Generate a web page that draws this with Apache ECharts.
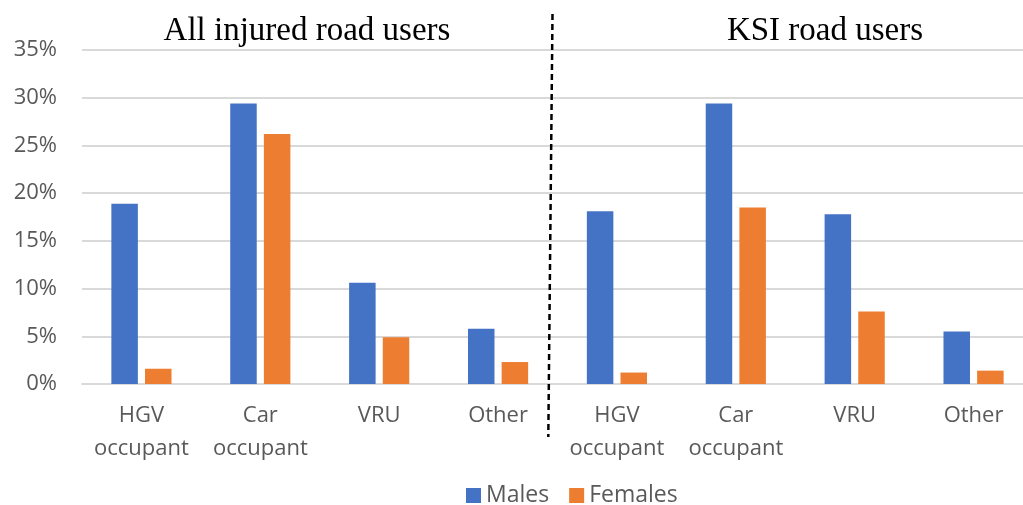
<!DOCTYPE html>
<html>
<head>
<meta charset="utf-8">
<script src="https://cdn.jsdelivr.net/npm/echarts@6/dist/echarts.min.js"></script>
<style>
    html, body {margin: 0; padding: 0; background: #fff; overflow: hidden;}
    /* the source picture is cut on the right, so the plot runs a little past the window */
    #chart {width: 1033px; height: 505px;}
</style>
</head>
<body>
<div id="chart"></div>
<script>
    'use strict';

    // categories: two panels of four road-user groups each
    const categories = ["HGV\noccupant", "Car\noccupant", "VRU", "Other", "HGV\noccupant", "Car\noccupant", "VRU", "Other"];
    const panelTitles = ["All injured road users", "KSI road users"];
    const males = [18.9, 29.4, 10.6, 5.8, 18.1, 29.4, 17.8, 5.5];
    const females = [1.6, 26.2, 4.9, 2.3, 1.2, 18.5, 7.6, 1.4];
    const yTicks = [0, 5, 10, 15, 20, 25, 30, 35];

    const blue = "#4472C4", orange = "#ED7D31", grey = "#595959", line = "#D9D9D9";
    const sans = "Open Sans", serif = "Liberation Serif";

    const chartInit = () => {
        const el = document.getElementById("chart");
        const chart = echarts.init(el, null, {renderer: "canvas"});
        const titleStyle = {fontFamily: serif, fontWeight: "normal", fontSize: 33, color: "#000"};
        chart.setOption({
            animation: false,
            color: [blue, orange],
            title: [
                {text: panelTitles[0], left: 302, top: 10, textAlign: "center", textStyle: titleStyle},
                {text: panelTitles[1], left: 820, top: 10, textAlign: "center", textStyle: titleStyle}
            ],
            grid: {left: 82, right: 0, top: 50, bottom: 121, containLabel: false},
            legend: {
                left: 461, top: 479,
                icon: "rect", itemWidth: 15, itemHeight: 15, itemGap: 20,
                textStyle: {fontFamily: sans, fontSize: 23, color: grey}
            },
            xAxis: {
                type: "category",
                data: categories,
                axisLine: {show: true, lineStyle: {color: line, width: 2}},
                axisTick: {show: false},
                axisLabel: {fontFamily: sans, fontSize: 22, color: grey, lineHeight: 33, margin: 15, interval: 0}
            },
            yAxis: {
                type: "value",
                min: yTicks[0], max: yTicks[yTicks.length - 1], interval: 5,
                axisLine: {show: false},
                axisTick: {show: false},
                splitLine: {lineStyle: {color: line, width: 2}},
                axisLabel: {formatter: "{value}%", fontFamily: sans, fontSize: 22, color: grey, margin: 25}
            },
            series: [
                {name: "Males", type: "bar", data: males, barWidth: 26.5, barGap: "27%"},
                {name: "Females", type: "bar", data: females, barWidth: 26.5, barGap: "27%"}
            ],
            graphic: [{
                type: "line",
                shape: {x1: 552.5, y1: 14, x2: 548.3, y2: 437},
                style: {stroke: "#000", lineWidth: 2.5, lineDash: [6, 4]},
                z: 100
            }]
        });
    };

    document.addEventListener("DOMContentLoaded", chartInit);
</script>
</body>
</html>
